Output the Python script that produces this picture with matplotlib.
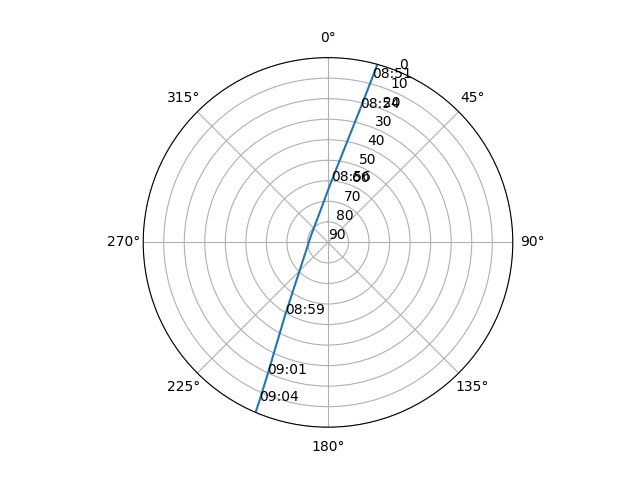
import numpy as np
import matplotlib
matplotlib.use("Agg")
import matplotlib.pyplot as plt

# satellite pass: azimuth (deg) and elevation (deg)
times = ["", "08:51", "08:54", "08:56", "", "08:59", "09:01", "09:04", ""]
azimuth = [15.5, 15.05, 13.6, 3.3, 289.0, 210.7, 204.6, 203.4, 203.1]
elevation = [0.1, 7.1, 22.8, 60.0, 81.1, 49.4, 19.3, 5.8, 0.5]

fig = plt.figure(figsize=(6.4, 4.8))
ax = fig.add_subplot(111, projection='polar')
ax.set_theta_zero_location('N')
ax.set_theta_direction(-1)

theta = np.radians(azimuth)
ax.plot(theta, elevation)

for t, r, label in zip(theta, elevation, times):
    if label:
        ax.text(t, r, label)

ax.set_yticks(range(0, 91, 10))
ax.set_ylim(90, 0)

plt.savefig("out.png", dpi=100)
